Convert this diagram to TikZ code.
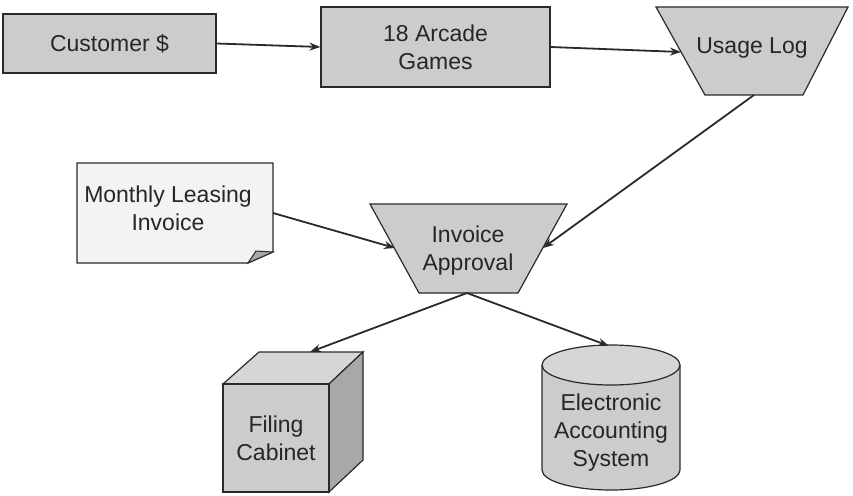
\documentclass[tikz,border=0pt]{standalone}
\usepackage{fontspec}
\setmainfont{Liberation Sans}
\usetikzlibrary{arrows.meta}
\definecolor{boxfill}{HTML}{CCCCCC}
\definecolor{docfill}{HTML}{F3F3F3}
\definecolor{sidefill}{HTML}{A8A8A8}
\definecolor{topfill}{HTML}{D6D6D6}
\definecolor{edge}{HTML}{2A2A2A}
\tikzset{
  shape line/.style={draw=edge, line width=1.2pt, line join=miter},
  label text/.style={font=\fontsize{23}{28}\selectfont, text=black!85, align=center, inner sep=0pt},
  procbox/.style={shape line, fill=boxfill, rectangle, inner sep=0pt},
  flow/.style={draw=edge, line width=1.8pt, -{Stealth[length=11pt,width=8pt]}},
}
\begin{document}
\begin{tikzpicture}[x=1pt,y=-1pt]
\useasboundingbox (0,0) rectangle (853,495);

% source and process boxes
\node[procbox, minimum width=213pt, minimum height=59pt, label text] (cust) at (109.5,43.5) {Customer \$};
\node[procbox, minimum width=229pt, minimum height=80pt, label text] (arcade) at (435.5,47) {18 Arcade\\Games};

% Usage Log (inverted trapezoid)
\draw[shape line, fill=boxfill] (656,7) -- (848,7) -- (803,95) -- (705,95) -- cycle;
\node[label text] (usage) at (752,48) {Usage Log};
\coordinate (usageIn) at (681,52);
\coordinate (usageOut) at (754,95);

% Monthly Leasing Invoice (document with folded corner)
\draw[shape line, fill=docfill] (77,163) -- (273,163) -- (273,252) -- (248,263) -- (77,263) -- cycle;
\draw[draw=edge, line width=1pt, fill=sidefill] (248,263) -- (256,251) -- (273,252) -- cycle;
\node[label text] (invoice) at (168,208) {Monthly Leasing\\Invoice};
\coordinate (invoiceOut) at (273,213);

% Invoice Approval (inverted trapezoid)
\draw[shape line, fill=boxfill] (370,204) -- (567,204) -- (518,293) -- (419,293) -- cycle;
\node[label text] (approval) at (468,251) {Invoice\\Approval};
\coordinate (approvalInL) at (395,248);
\coordinate (approvalInR) at (543,248);
\coordinate (approvalOut) at (467,293);

% Filing Cabinet (cube)
\draw[shape line, fill=topfill] (223,384) -- (259,352) -- (363,352) -- (329,384) -- cycle;
\draw[shape line, fill=sidefill] (329,384) -- (363,352) -- (363,460) -- (329,492) -- cycle;
\draw[shape line, fill=boxfill] (223,384) rectangle (329,492);
\node[label text] (cabinet) at (276,438) {Filing\\Cabinet};
\coordinate (cabinetIn) at (310,352);

% Electronic Accounting System (cylinder)
\draw[shape line, fill=boxfill] (542,365) -- (542,470) arc[start angle=180, end angle=0, x radius=69, y radius=20] -- (680,365);
\draw[shape line, fill=topfill] (611,365) ellipse[x radius=69, y radius=20];
\node[label text] (accounting) at (611,433) {Electronic\\Accounting\\System};
\coordinate (accountingIn) at (609,346);

% flows
\draw[flow] (cust.east) -- (arcade.west);
\draw[flow] (arcade.east) -- (usageIn);
\draw[flow] (usageOut) -- (approvalInR);
\draw[flow] (invoiceOut) -- (approvalInL);
\draw[flow] (approvalOut) -- (cabinetIn);
\draw[flow] (approvalOut) -- (accountingIn);
\end{tikzpicture}
\end{document}
